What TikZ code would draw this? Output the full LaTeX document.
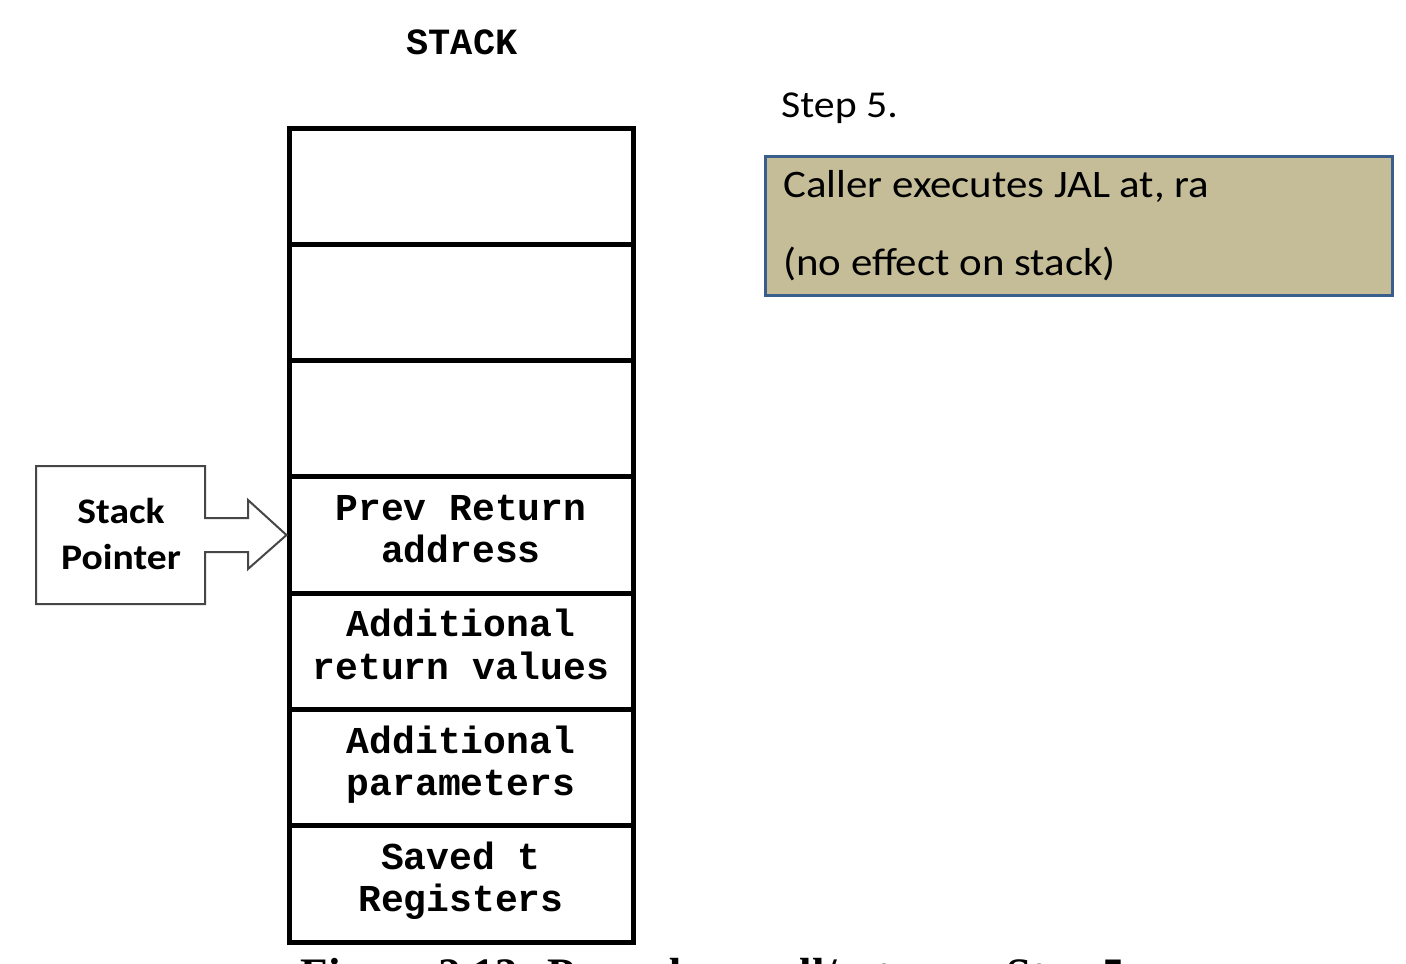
\documentclass[tikz,border=0pt]{standalone}
\usepackage{fontspec}
\setmainfont{Liberation Serif}
\newfontfamily\monofont{Liberation Mono}
\newfontfamily\calfont{Carlito}[FakeStretch=1.1]
\definecolor{tanfill}{RGB}{196,189,151}
\definecolor{boxblue}{RGB}{58,94,140}
\definecolor{spgray}{RGB}{70,70,70}
\tikzset{
  cell/.style={draw=black, line width=5pt, minimum width=344pt, minimum height=116.3pt, inner sep=0pt},
  celltext/.style={align=center, inner sep=0pt, font=\monofont\bfseries\fontsize{38}{42.5}\selectfont},
  sptext/.style={align=center, font=\calfont\bfseries\fontsize{36}{46}\selectfont, inner sep=0pt},
  notetext/.style={anchor=base west, inner sep=0pt, font=\calfont\fontsize{39}{46}\selectfont},
}
\begin{document}
\begin{tikzpicture}[x=1pt,y=-1pt]
\useasboundingbox (0,0) rectangle (1406,964);
\fill[white] (0,0) rectangle (1406,964);
\clip (0,0) rectangle (1406,964);

% title
\node[font=\monofont\bfseries\fontsize{37}{40}\selectfont, inner sep=0pt] (title) at (462,42) {STACK};

% stack cells
\node[cell] (c1) at (461,186.15) {};
\node[cell] (c2) at (461,302.45) {};
\node[cell] (c3) at (461,418.75) {};
\node[cell] (c4) at (461,535.05) {};
\node[cell] (c5) at (461,651.35) {};
\node[cell] (c6) at (461,767.65) {};
\node[cell] (c7) at (461,883.95) {};
\node[celltext, yshift=6pt] (t4) at (c4) {Prev Return\\address};
\node[celltext, yshift=7pt] (t5) at (c5) {Additional\\return values};
\node[celltext, yshift=3pt] (t6) at (c6) {Additional\\parameters};
\node[celltext, yshift=3pt] (t7) at (c7) {Saved t\\Registers};

% stack pointer block arrow
\node[sptext] (sp) at (121,534) {Stack\\Pointer};
\coordinate (tip) at (c4.west);
\draw[spgray, line width=2pt, line join=miter]
  (36,466) -- (205,466) -- (205,518) -- (248,518) -- (248,500) -- (tip)
  -- (248,569) -- (248,552) -- (205,552) -- (205,604) -- (36,604) -- cycle;

% step label and note
\node[anchor=base west, inner sep=0pt, font=\calfont\fontsize{38}{46}\selectfont] (step) at (781,117) {Step 5.};
\node[draw=boxblue, fill=tanfill, line width=3pt, minimum width=627pt, minimum height=139pt, inner sep=0pt] (note) at (1078.5,225.5) {};
\node[notetext] (n1) at (783,197) {Caller executes JAL at, ra};
\node[notetext] (n2) at (783,275) {(no effect on stack)};

% caption (cut off by the lower edge)
\node[anchor=base, inner sep=0pt, font=\bfseries\fontsize{45}{48}\selectfont] (cap) at (713,989) {Figure 2.13: Procedure call/return – Step 5};
\end{tikzpicture}
\end{document}
